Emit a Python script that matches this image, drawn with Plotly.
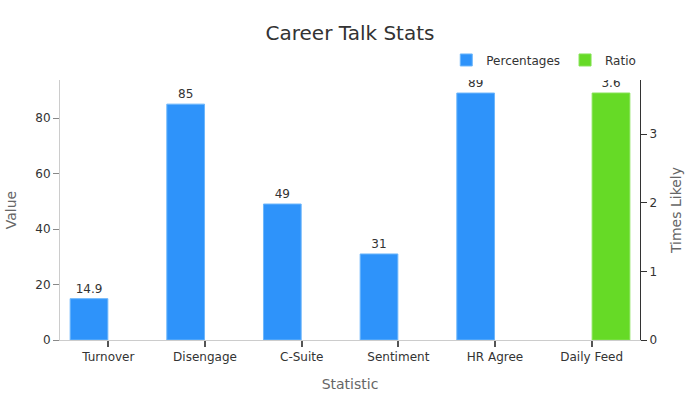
import plotly.graph_objects as go

categories = ['Turnover', 'Disengage', 'C-Suite', 'Sentiment', 'HR Agree', 'Daily Feed']
percentages = [14.9, 85, 49, 31, 89, None]
ratio = [None, None, None, None, None, 3.6]
percent_labels = ['14.9', '85', '49', '31', '89', '']
ratio_labels = ['', '', '', '', '', '3.6']

FONT = 'DejaVu Sans'

fig = go.Figure()

fig.add_trace(go.Bar(
    name='Percentages',
    x=categories,
    y=percentages,
    width=0.39,
    offset=-0.395,
    text=percent_labels,
    textposition='outside',
    constraintext='none',
    cliponaxis=True,
    textfont=dict(size=12, color='#333333'),
    marker=dict(color='#2E93FA', line=dict(color='#6DB6FB', width=1)),
))

fig.add_trace(go.Bar(
    name='Ratio',
    x=categories,
    y=ratio,
    yaxis='y2',
    width=0.39,
    offset=0.005,
    text=ratio_labels,
    textposition='outside',
    constraintext='none',
    cliponaxis=True,
    textfont=dict(size=12, color='#333333'),
    marker=dict(color='#66DA26', line=dict(color='#85E355', width=1)),
))

fig.update_layout(
    width=700,
    height=400,
    autosize=False,
    paper_bgcolor='white',
    plot_bgcolor='white',
    font=dict(family=FONT, size=12, color='#333333'),
    title=dict(text='Career Talk Stats', x=0.5, xanchor='center', y=0.9175, yanchor='middle',
               font=dict(size=20, color='#333333')),
    margin=dict(l=59.5, r=59.5, t=80, b=60),
    barmode='overlay',
    legend=dict(orientation='h', x=0.666, xanchor='left', y=1.077, yanchor='middle',
                font=dict(size=12, color='#333333')),
    xaxis=dict(
        showgrid=False, showline=True, linecolor='#CCCCCC', linewidth=1,
        ticks='outside', ticklen=6, tickwidth=1.5, tickcolor='#555555', tickfont=dict(size=12),
        tickmode='array', tickvals=categories, ticktext=categories,
        title=dict(text='Statistic', font=dict(size=14, color='#666666'), standoff=15),
    ),
    yaxis=dict(
        range=[0, 93.7], showgrid=False, zeroline=False, showline=True,
        linecolor='#CCCCCC', linewidth=1, ticks='outside', ticklen=6, tickcolor='#888888',
        tickvals=[0, 20, 40, 60, 80], tickfont=dict(size=12),
        title=dict(text='Value', font=dict(size=14, color='#666666'), standoff=15),
    ),
    yaxis2=dict(
        range=[0, 3.79], overlaying='y', side='right', showgrid=False, zeroline=False,
        showline=True, linecolor='#333333', linewidth=1, ticks='outside', ticklen=6,
        tickcolor='#333333', tickvals=[0, 1, 2, 3], tickfont=dict(size=12),
        title=dict(text='Times Likely', font=dict(size=14, color='#666666'), standoff=15),
    ),
)

# drop the browser's default body margin so the figure fills the window
fig.write_html("out.html", config={'displayModeBar': False},
               post_script="document.body.style.margin = '0';")
